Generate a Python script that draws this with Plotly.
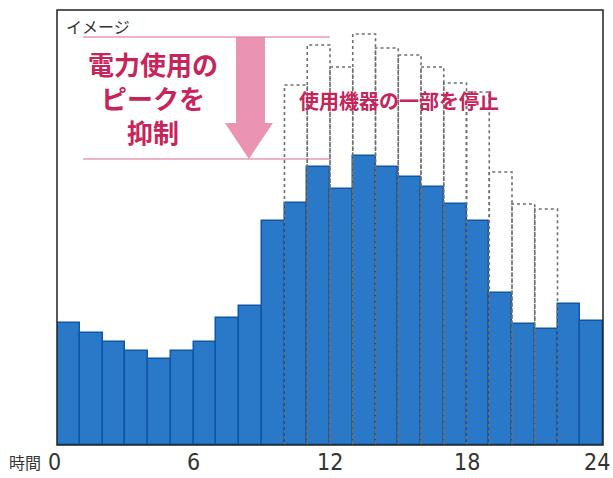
import plotly.graph_objects as go

hours = list(range(24))
# power use after reducing the peak (blue bars)
reduced = [122, 112, 103, 94, 86, 94, 103, 127, 139, 224, 242, 278,
           256, 289, 278, 268, 258, 241, 224, 152, 121, 116, 141, 124]
# original power use before stopping some appliances (dotted outlines)
original = [None, None, None, None, None, None, None, None, None, None, 360, 400,
            378, 411, 397, 390, 378, 362, 353, 273, 241, 236, None, None]
tick_vals = [0, 6, 12, 18, 24]
tick_text = ["0", "6", "12", "18", "24"]

BLUE = "#2a78c8"
BLUE_EDGE = "#0f56a6"
PINK_TEXT = "#c9245a"
PINK_LINE = "#e0668e"
ARROW = "rgba(232,128,165,0.85)"

fig = go.Figure()

# dotted outlines of original usage
dx, dy = [], []
for h, v in zip(hours, original):
    if v is None:
        continue
    dx += [h, h, h + 1, h + 1, None]
    dy += [0, v, v, 0, None]
fig.add_trace(go.Scatter(x=dx, y=dy, mode="lines",
                         line=dict(color="#6f6f6f", width=1.6, dash="dot"),
                         hoverinfo="skip", showlegend=False))

fig.add_trace(go.Bar(x=[h + 0.5 for h in hours], y=reduced, width=1,
                     marker=dict(color=BLUE, line=dict(color=BLUE_EDGE, width=1.5)),
                     showlegend=False))

peak_before = max(v for v in original if v is not None)
peak_after = max(reduced)

shapes = []
for yv in (peak_before - 3, peak_after - 3):
    shapes.append(dict(type="line", xref="x", yref="y", x0=1.15, x1=12.0,
                       y0=yv, y1=yv, line=dict(color=PINK_LINE, width=1.2)))

# downward arrow between the two peak levels
sx0, sx1 = 7.87, 9.14
hx0, hx1 = 7.38, 9.49
tip = peak_after - 3
head_top = tip + 36
xm = (hx0 + hx1) / 2
path = (f"M {sx0},{peak_before - 3} L {sx1},{peak_before - 3} L {sx1},{head_top} "
        f"L {hx1},{head_top} L {xm},{tip} L {hx0},{head_top} "
        f"L {sx0},{head_top} Z")
shapes.append(dict(type="path", xref="x", yref="y", path=path,
                   fillcolor=ARROW, line=dict(width=0)))

# frame around the plotting area
shapes.append(dict(type="rect", xref="paper", yref="paper", x0=0, x1=1, y0=0, y1=1,
                   line=dict(color="#222222", width=1.5), layer="above"))

annotations = [
    dict(text="イメージ", xref="paper", yref="paper", x=0.013, y=0.995,
         xanchor="left", yanchor="top", showarrow=False,
         font=dict(size=16, color="#333333", family="Noto Sans CJK JP")),
    dict(text="<b>電力使用の<br>ピークを<br>抑制</b>", xref="x", yref="y",
         x=4.2, y=(peak_before + peak_after) / 2 - 2, showarrow=False,
         font=dict(size=26, color=PINK_TEXT, family="Noto Sans CJK JP")),
    dict(text="<b>使用機器の一部を停止</b>", xref="x", yref="y",
         x=15.05, y=345, showarrow=False,
         font=dict(size=20, color=PINK_TEXT, family="Noto Sans CJK JP")),
    dict(text="時間", xref="paper", yref="paper", x=-0.025, y=-0.04,
         xanchor="right", yanchor="middle", showarrow=False,
         font=dict(size=16, color="#333333", family="Noto Sans CJK JP")),
]

# x tick labels (the last one is nudged inward so it stays inside the page)
for i, (tv, tt) in enumerate(zip(tick_vals, tick_text)):
    shift = -6 if i == len(tick_vals) - 1 else (-3 if i == 0 else 0)
    annotations.append(dict(text=tt, xref="x", yref="paper", x=tv, y=-0.04,
                            xanchor="center", yanchor="middle", xshift=shift,
                            showarrow=False,
                            font=dict(size=23, color="#333333",
                                      family="Liberation Sans Narrow, DejaVu Sans Condensed, Arial")))

fig.update_layout(
    width=613, height=478,
    margin=dict(l=57, r=10, t=10, b=33, autoexpand=False),
    paper_bgcolor="white", plot_bgcolor="white",
    bargap=0, shapes=shapes, annotations=annotations,
    xaxis=dict(range=[0, 24], showticklabels=False,
               showgrid=False, zeroline=False, ticks="", automargin=False,
               showline=False),
    yaxis=dict(range=[0, 435], showgrid=False, zeroline=False, automargin=False,
               showticklabels=False, ticks="", showline=False),
)

fig.write_html("out.html")
